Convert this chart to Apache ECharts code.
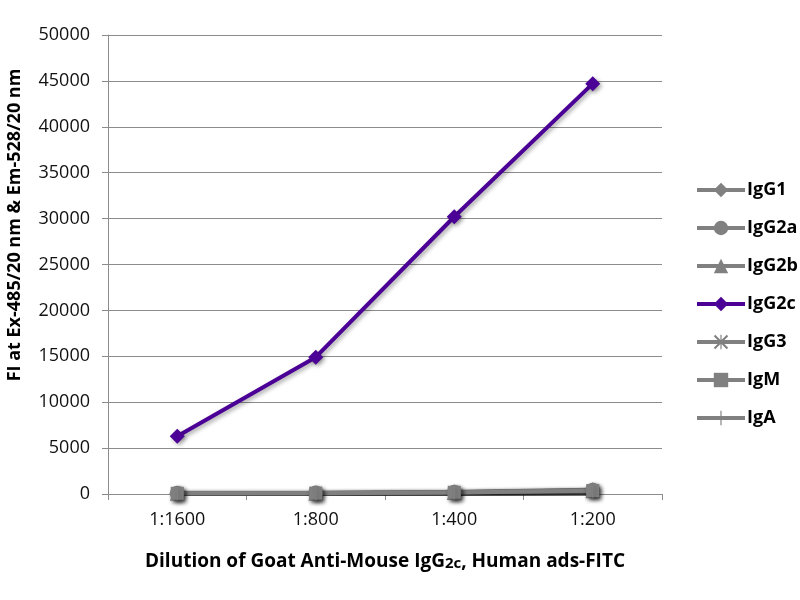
<!DOCTYPE html>
<html>
<head>
<meta charset="utf-8">
<script src="https://cdn.jsdelivr.net/npm/echarts@6/dist/echarts.min.js"></script>
<style>html,body{margin:0;padding:0;background:#fff}#c{width:800px;height:600px}</style>
</head>
<body>
<div id="c"></div>
<script>
var categories = ['1:1600', '1:800', '1:400', '1:200'];
var seriesNames = ['IgG1', 'IgG2a', 'IgG2b', 'IgG2c', 'IgG3', 'IgM', 'IgA'];
var IgG1 = [90, 110, 220, 450];
var IgG2a = [80, 100, 190, 400];
var IgG2b = [70, 90, 170, 360];
var IgG2c = [6300, 14900, 30200, 44700];
var IgG3 = [60, 80, 150, 330];
var IgM = [80, 100, 190, 380];
var IgA = [70, 90, 160, 350];
var yTicks = [0, 5000, 10000, 15000, 20000, 25000, 30000, 35000, 40000, 45000, 50000];

var gray = '#808080';
var purple = '#4B0096';
var dataMap = {IgG1: IgG1, IgG2a: IgG2a, IgG2b: IgG2b, IgG2c: IgG2c, IgG3: IgG3, IgM: IgM, IgA: IgA};
var symbols = {
  IgG1: 'diamond',
  IgG2a: 'circle',
  IgG2b: 'triangle',
  IgG2c: 'diamond',
  IgG3: 'path://M0,1L1,0L5,4L9,0L10,1L6,5L10,9L9,10L5,6L1,10L0,9L4,5ZM4.6,0L5.4,0L5.4,10L4.6,10Z',
  IgM: 'rect',
  IgA: 'path://M0,0L0.01,0L0.01,0.01ZM4.6,0L5.4,0L5.4,10L4.6,10ZM10,10L9.99,10L10,9.99Z'
};
var sizes = {IgG1: 15, IgG2a: 15, IgG2b: 15, IgG2c: 15, IgG3: 13, IgM: 13, IgA: 14};

var series = seriesNames.map(function (n) {
  var col = n === 'IgG2c' ? purple : gray;
  return {
    name: n,
    type: 'line',
    data: dataMap[n],
    symbol: symbols[n],
    symbolSize: sizes[n],
    z: n === 'IgG2c' ? 5 : 2,
    lineStyle: {color: col, width: 4, shadowColor: 'rgba(0,0,0,0.35)', shadowBlur: 4, shadowOffsetX: 2, shadowOffsetY: 2},
    itemStyle: {color: col, shadowColor: 'rgba(0,0,0,0.35)', shadowBlur: 4, shadowOffsetX: 2, shadowOffsetY: 2},
    emphasis: {disabled: true}
  };
});

var chart = echarts.init(document.getElementById('c'));
chart.setOption({
  animation: false,
  backgroundColor: '#fff',
  grid: {left: 108, right: 138, top: 35, bottom: 106},
  legend: {
    orient: 'vertical',
    left: 690,
    top: 176,
    itemGap: 20,
    itemWidth: 48,
    itemHeight: 18,
    lineStyle: {width: 4, shadowBlur: 0, shadowOffsetX: 0, shadowOffsetY: 0},
    itemStyle: {shadowBlur: 0, shadowOffsetX: 0, shadowOffsetY: 0},
    textStyle: {fontFamily: 'Open Sans', fontWeight: 'bold', fontSize: 18, color: '#000', padding: [0, 0, 0, -3]},
    data: seriesNames
  },
  xAxis: {
    type: 'category',
    data: categories,
    boundaryGap: true,
    axisLine: {lineStyle: {color: '#8c8c8c', width: 1}},
    axisTick: {show: true, alignWithLabel: false, length: 6, lineStyle: {color: '#8c8c8c'}},
    axisLabel: {fontFamily: 'Open Sans', fontSize: 18, color: '#111', margin: 17},
    name: 'Dilution of Goat Anti-Mouse IgG{s|2c}, Human ads-FITC',
    nameLocation: 'middle',
    nameGap: 58,
    nameTextStyle: {
      fontFamily: 'Open Sans', fontWeight: 'bold', fontSize: 19, color: '#000',
      rich: {s: {fontFamily: 'Open Sans', fontWeight: 'bold', fontSize: 15, color: '#000', verticalAlign: 'bottom'}}
    }
  },
  yAxis: {
    type: 'value',
    min: yTicks[0],
    max: yTicks[yTicks.length - 1],
    interval: yTicks[1] - yTicks[0],
    axisLine: {show: true, lineStyle: {color: '#8c8c8c'}},
    axisTick: {show: true, length: 6, lineStyle: {color: '#8c8c8c'}},
    splitLine: {lineStyle: {color: '#8c8c8c', width: 1}},
    axisLabel: {fontFamily: 'Open Sans', fontSize: 18, color: '#111', margin: 18, formatter: function (v) { return String(v); }}
  },
  graphic: [{
    type: 'text',
    x: 15,
    y: 225,
    rotation: Math.PI / 2,
    style: {
      text: 'FI at Ex-485/20 nm & Em-528/20 nm',
      fontFamily: 'Open Sans', fontWeight: 'bold', fontSize: 18, fill: '#000',
      textAlign: 'center', textVerticalAlign: 'middle'
    }
  }],
  series: series
});
</script>
</body>
</html>
